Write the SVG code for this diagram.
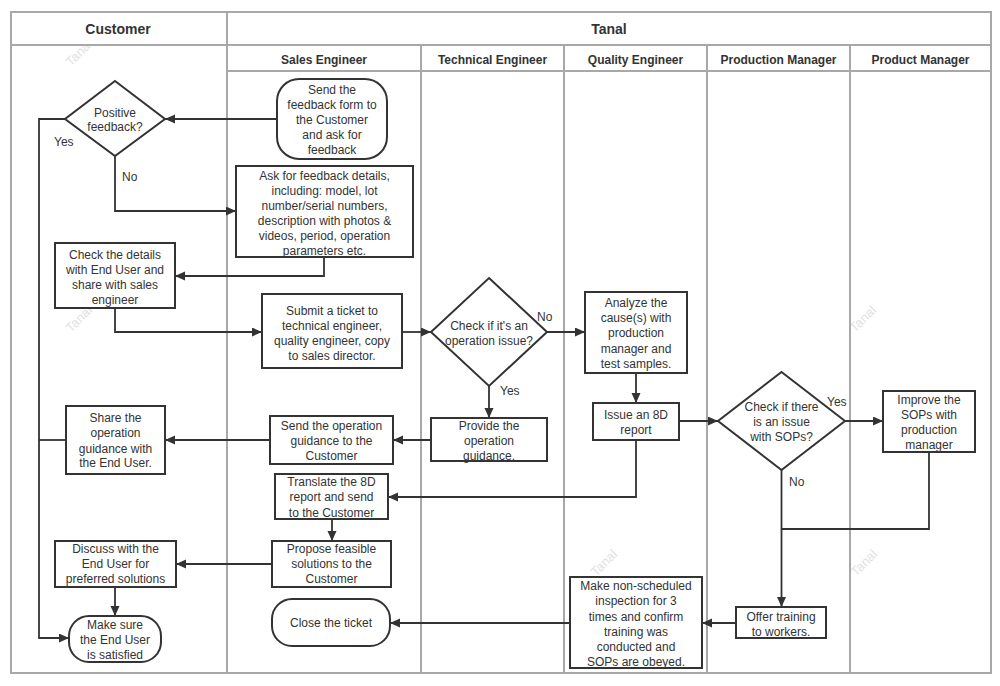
<svg xmlns="http://www.w3.org/2000/svg" width="1000" height="686" viewBox="0 0 1000 686">
<defs>
<marker id="ah" markerUnits="userSpaceOnUse" markerWidth="11" markerHeight="10" refX="10" refY="4.5" orient="auto">
<path d="M0,0 L10,4.5 L0,9 z" fill="#333"/>
</marker>
<style>
.grid{fill:none;stroke:#a8a8a8;stroke-width:2}
.hd{font-family:"Liberation Sans",Arial,sans-serif;font-weight:bold;fill:#333;text-anchor:middle}
.box{fill:#fff;stroke:#333;stroke-width:2}
.t{font-family:"Liberation Sans",Arial,sans-serif;font-size:12px;fill:#333;text-anchor:middle}
.lbl{font-family:"Liberation Sans",Arial,sans-serif;font-size:12px;fill:#333}
.wm{font-family:"Liberation Sans",Arial,sans-serif;font-size:13px;fill:#e2e2e2;text-anchor:middle}
.c{fill:none;stroke:#333;stroke-width:1.8}
.ca{fill:none;stroke:#333;stroke-width:1.8;marker-end:url(#ah)}
</style>
</defs>
<rect width="1000" height="686" fill="#fff"/>
<g id="watermarks">
<text class="wm" transform="translate(82,56) rotate(-45)">Tanal</text>
<text class="wm" transform="translate(82,322) rotate(-45)">Tanal</text>
<text class="wm" transform="translate(866,322) rotate(-45)">Tanal</text>
<text class="wm" transform="translate(607,566) rotate(-45)">Tanal</text>
<text class="wm" transform="translate(867,566) rotate(-45)">Tanal</text>
</g>
<g id="lanes">
<rect x="11" y="12" width="980" height="33" fill="#fff"/>
<rect x="227" y="45" width="764" height="26" fill="#fff"/>
<rect class="grid" x="11" y="12" width="980" height="661"/>
<line class="grid" x1="11" y1="45" x2="991" y2="45"/>
<line class="grid" x1="227" y1="71" x2="991" y2="71"/>
<line class="grid" x1="227" y1="12" x2="227" y2="673"/>
<line class="grid" x1="421" y1="45" x2="421" y2="673"/>
<line class="grid" x1="564" y1="45" x2="564" y2="673"/>
<line class="grid" x1="707" y1="45" x2="707" y2="673"/>
<line class="grid" x1="850" y1="45" x2="850" y2="673"/>
<text class="hd" x="118" y="34" font-size="14">Customer</text>
<text class="hd" x="609" y="34" font-size="14">Tanal</text>
<text class="hd" x="324" y="64" font-size="12">Sales Engineer</text>
<text class="hd" x="492.5" y="64" font-size="12">Technical Engineer</text>
<text class="hd" x="635.5" y="64" font-size="12">Quality Engineer</text>
<text class="hd" x="778.5" y="64" font-size="12">Production Manager</text>
<text class="hd" x="920.5" y="64" font-size="12">Product Manager</text>
</g>
<g id="connectors">
<path class="ca" d="M277,119 L165,119"/>
<path class="ca" d="M65,119 L39,119 L39,638 L69,638"/>
<path class="ca" d="M115,156 L115,211 L236,211"/>
<path class="ca" d="M324,257 L324,276 L175,276"/>
<path class="ca" d="M115,308 L115,332 L262,332"/>
<path class="ca" d="M402,332 L431,332"/>
<path class="ca" d="M547,332 L585,332"/>
<path class="ca" d="M489,386 L489,418"/>
<path class="ca" d="M636,373 L636,403"/>
<path class="ca" d="M679,421 L718,421"/>
<path class="ca" d="M845,421 L883,421"/>
<path class="ca" d="M781.5,470 L781.5,607"/>
<path class="c" d="M929,452 L929,529 L781.5,529"/>
<path class="ca" d="M431,440 L393,440"/>
<path class="ca" d="M270,440 L165,440"/>
<path class="c" d="M66,440 L39,440"/>
<path class="ca" d="M636,440 L636,497 L388,497"/>
<path class="ca" d="M332,519 L332,541"/>
<path class="ca" d="M272,564 L176,564"/>
<path class="ca" d="M115,587 L115,616"/>
<path class="ca" d="M736,623 L702,623"/>
<path class="ca" d="M570,623 L390,623"/>
<text class="lbl" x="54" y="146">Yes</text>
<text class="lbl" x="122" y="181">No</text>
<text class="lbl" x="537" y="321">No</text>
<text class="lbl" x="500" y="395">Yes</text>
<text class="lbl" x="827" y="406">Yes</text>
<text class="lbl" x="789" y="486">No</text>
</g>
<g id="n_send_feedback">
<rect class="box" x="277" y="79" width="110" height="80" rx="22"/>
<text class="t" x="332"><tspan x="332" y="94.3">Send the</tspan><tspan x="332" y="109.3">feedback form to</tspan><tspan x="332" y="124.3">the Customer</tspan><tspan x="332" y="139.3">and ask for</tspan><tspan x="332" y="154.3">feedback</tspan></text>
</g>
<g id="n_positive">
<polygon class="box" points="115,81 165,119 115,156 65,119"/>
<text class="t"><tspan x="115" y="117">Positive</tspan><tspan x="115" y="131.3">feedback?</tspan></text>
</g>
<g id="n_ask">
<rect class="box" x="236" y="166" width="177" height="91"/>
<text class="t"><tspan x="324.5" y="179.6">Ask for feedback details,</tspan><tspan x="324.5" y="194.6">including: model, lot</tspan><tspan x="324.5" y="210">number/serial numbers,</tspan><tspan x="324.5" y="225.3">description with photos &amp;</tspan><tspan x="324.5" y="240.3">videos, period, operation</tspan><tspan x="324.5" y="255.3">parameters etc.</tspan></text>
</g>
<g id="n_check">
<rect class="box" x="55" y="243" width="120" height="65"/>
<text class="t"><tspan x="115" y="259">Check the details</tspan><tspan x="115" y="274">with End User and</tspan><tspan x="115" y="289">share with sales</tspan><tspan x="115" y="304.3">engineer</tspan></text>
</g>
<g id="n_submit">
<rect class="box" x="262" y="294" width="140" height="74"/>
<text class="t"><tspan x="332" y="315">Submit a ticket to</tspan><tspan x="332" y="330">technical engineer,</tspan><tspan x="332" y="345">quality engineer, copy</tspan><tspan x="332" y="360">to sales director.</tspan></text>
</g>
<g id="n_operation">
<polygon class="box" points="489,278 547,332 489,386 431,332"/>
<text class="t"><tspan x="489" y="330.3">Check if it's an</tspan><tspan x="489" y="345.3">operation issue?</tspan></text>
</g>
<g id="n_analyze">
<rect class="box" x="585" y="292" width="102" height="81"/>
<text class="t"><tspan x="636" y="307.3">Analyze the</tspan><tspan x="636" y="322.3">cause(s) with</tspan><tspan x="636" y="337.3">production</tspan><tspan x="636" y="353.3">manager and</tspan><tspan x="636" y="368.3">test samples.</tspan></text>
</g>
<g id="n_issue">
<rect class="box" x="593" y="403" width="86" height="37"/>
<text class="t"><tspan x="636" y="419.3">Issue an 8D</tspan><tspan x="636" y="434.3">report</tspan></text>
</g>
<g id="n_sop">
<polygon class="box" points="781.5,372 845,421 781.5,470 718,421"/>
<text class="t"><tspan x="781.5" y="411.3">Check if there</tspan><tspan x="781.5" y="426.3">is an issue</tspan><tspan x="781.5" y="441.3">with SOPs?</tspan></text>
</g>
<g id="n_improve">
<rect class="box" x="883" y="391" width="92" height="61"/>
<text class="t"><tspan x="929" y="404.3">Improve the</tspan><tspan x="929" y="419.3">SOPs with</tspan><tspan x="929" y="434.3">production</tspan><tspan x="929" y="449.3">manager</tspan></text>
</g>
<g id="n_provide">
<rect class="box" x="431" y="418" width="116" height="43"/>
<text class="t"><tspan x="489" y="430.3">Provide the</tspan><tspan x="489" y="445.3">operation</tspan><tspan x="489" y="460.3">guidance.</tspan></text>
</g>
<g id="n_send_op">
<rect class="box" x="270" y="416" width="123" height="48"/>
<text class="t"><tspan x="331.5" y="430.3">Send the operation</tspan><tspan x="331.5" y="445.3">guidance to the</tspan><tspan x="331.5" y="460.3">Customer</tspan></text>
</g>
<g id="n_share">
<rect class="box" x="66" y="406" width="99" height="68"/>
<text class="t"><tspan x="115.5" y="422.3">Share the</tspan><tspan x="115.5" y="437.3">operation</tspan><tspan x="115.5" y="453.3">guidance with</tspan><tspan x="115.5" y="467.3">the End User.</tspan></text>
</g>
<g id="n_translate">
<rect class="box" x="275" y="474" width="113" height="45"/>
<text class="t"><tspan x="331.5" y="486.3">Translate the 8D</tspan><tspan x="331.5" y="501.3">report and send</tspan><tspan x="331.5" y="517.3">to the Customer</tspan></text>
</g>
<g id="n_propose">
<rect class="box" x="272" y="541" width="119" height="46"/>
<text class="t"><tspan x="331.5" y="553.3">Propose feasible</tspan><tspan x="331.5" y="568.3">solutions to the</tspan><tspan x="331.5" y="583.3">Customer</tspan></text>
</g>
<g id="n_discuss">
<rect class="box" x="55" y="541" width="121" height="46"/>
<text class="t"><tspan x="115.5" y="553.3">Discuss with the</tspan><tspan x="115.5" y="568.3">End User for</tspan><tspan x="115.5" y="583.3">preferred solutions</tspan></text>
</g>
<g id="n_make_sure">
<rect class="box" x="69" y="616" width="92" height="46" rx="20"/>
<text class="t"><tspan x="115" y="629.3">Make sure</tspan><tspan x="115" y="644.3">the End User</tspan><tspan x="115" y="659.3">is satisfied</tspan></text>
</g>
<g id="n_close">
<rect class="box" x="272" y="599" width="118" height="47" rx="20"/>
<text class="t" x="331" y="627.3">Close the ticket</text>
</g>
<g id="n_offer">
<rect class="box" x="736" y="607" width="90" height="31"/>
<text class="t"><tspan x="781" y="621.3">Offer training</tspan><tspan x="781" y="636.3">to workers.</tspan></text>
</g>
<g id="n_inspect">
<rect class="box" x="570" y="577" width="132" height="91"/>
<text class="t"><tspan x="636" y="590.3">Make non-scheduled</tspan><tspan x="636" y="605.3">inspection for 3</tspan><tspan x="636" y="621.3">times and confirm</tspan><tspan x="636" y="636.3">training was</tspan><tspan x="636" y="651.3">conducted and</tspan><tspan x="636" y="666.3">SOPs are obeyed.</tspan></text>
</g>
</svg>
